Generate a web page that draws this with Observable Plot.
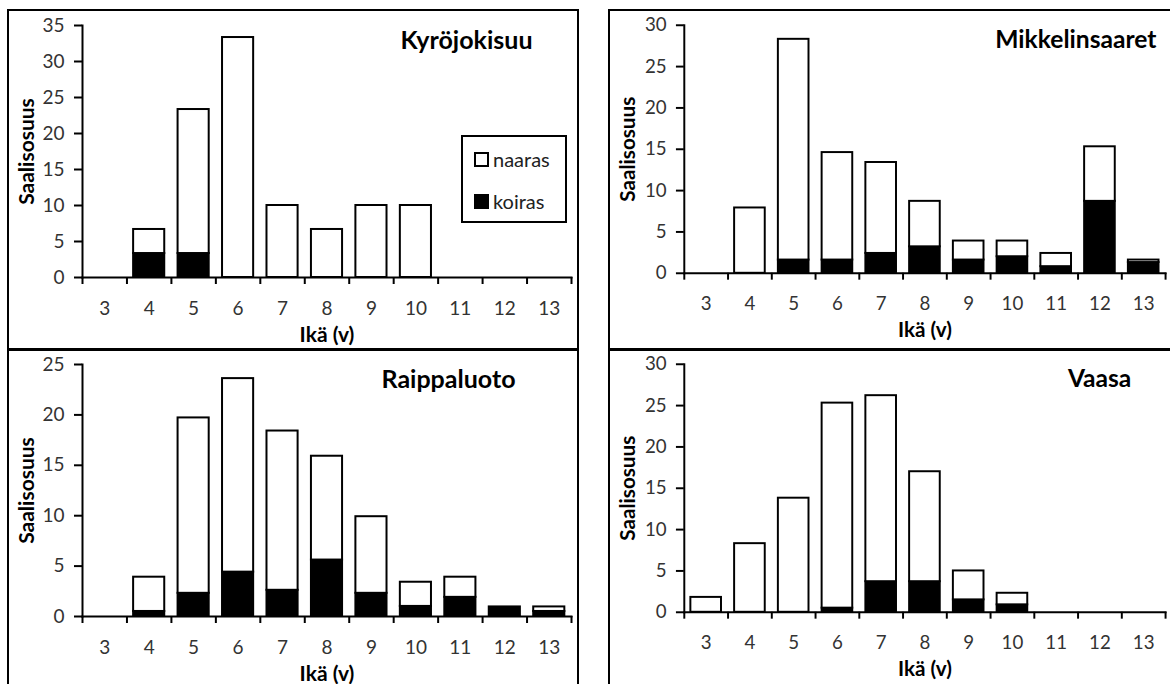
<!DOCTYPE html>
<html><head><meta charset="utf-8">
<script src="https://cdn.jsdelivr.net/npm/d3@7"></script>
<script src="https://cdn.jsdelivr.net/npm/@observablehq/plot@0.6"></script>
<style>
body{margin:0;background:#fff;font-family:Lato,sans-serif;}
#root{position:relative;width:1170px;height:684px;overflow:hidden;background:#fff;}
.frame{position:absolute;border:2px solid #000;box-sizing:border-box;}
.panel{position:absolute;}
.legend{position:absolute;border:2px solid #000;background:#fff;box-sizing:border-box;font-family:Lato,sans-serif;font-size:20px;color:#222;}
.legend .item{position:absolute;left:11px;display:flex;align-items:center;height:22px;}
.legend .sw{width:11px;height:11px;border:2px solid #000;margin-right:4px;}
</style></head><body><div id="root"></div>
<script>
// ---- data ----
const ages = [3, 4, 5, 6, 7, 8, 9, 10, 11, 12, 13];
const sexes = ["koiras", "naaras"];           // stacking order (bottom first)
const legendOrder = ["naaras", "koiras"];
const xTitle = "Ikä (v)";
const yTitle = "Saalisosuus";

const kyroTitle = "Kyröjokisuu";
const kyroKoiras = [0, 3.33, 3.33, 0, 0, 0, 0, 0, 0, 0, 0];
const kyroNaaras = [0, 3.34, 20.0, 33.33, 10.0, 6.67, 10.0, 10.0, 0, 0, 0];

const mikkTitle = "Mikkelinsaaret";
const mikkKoiras = [0, 0, 1.6, 1.6, 2.4, 3.2, 1.6, 2.0, 0.8, 8.7, 1.3];
const mikkNaaras = [0, 7.9, 26.7, 13.0, 11.0, 5.5, 2.3, 1.9, 1.6, 6.6, 0.3];

const raipTitle = "Raippaluoto";
const raipKoiras = [0, 0.5, 2.3, 4.4, 2.6, 5.6, 2.3, 1.0, 1.9, 0.95, 0.5];
const raipNaaras = [0, 3.4, 17.4, 19.2, 15.8, 10.3, 7.6, 2.4, 2.0, 0, 0.45];

const vaasTitle = "Vaasa";
const vaasKoiras = [0, 0, 0, 0.5, 3.7, 3.7, 1.5, 0.9, 0, 0, 0];
const vaasNaaras = [1.8, 8.3, 13.8, 24.8, 22.5, 13.3, 3.5, 1.4, 0, 0, 0];

const yMaxes = [35, 30, 25, 30];

// ---- layout ----
const layout = [
  {left: 8,   top: 10,  ml: 74, title: {x: 458, anchor: "middle"}},
  {left: 609, top: 10,  ml: 76, title: {x: 392, anchor: "start"}},
  {left: 8,   top: 349, ml: 74, title: {x: 440, anchor: "middle"}},
  {left: 609, top: 349, ml: 76, title: {x: 498, anchor: "middle"}}
];
const series = [
  [kyroTitle, kyroKoiras, kyroNaaras],
  [mikkTitle, mikkKoiras, mikkNaaras],
  [raipTitle, raipKoiras, raipNaaras],
  [vaasTitle, vaasKoiras, vaasNaaras]
];

const root = document.getElementById("root");
const W = 570, H = 339, PW = 489;

series.forEach(([title, koiras, naaras], i) => {
  const L = layout[i];
  const yMax = yMaxes[i];
  const data = ages.flatMap((a, j) => [
    {age: a, sex: sexes[0], value: koiras[j]},
    {age: a, sex: sexes[1], value: naaras[j]}
  ]).filter(d => d.value > 0);
  const frame = document.createElement("div");
  frame.className = "frame";
  frame.style.left = (L.left - 1) + "px";
  frame.style.top = (L.top - 1) + "px";
  frame.style.width = (i % 2 === 0 ? 572 : 700) + "px";
  frame.style.height = (i < 2 ? 342 : 400) + "px";
  root.appendChild(frame);

  const boundaries = d3.range(ages[0] - 0.5, ages[ages.length - 1] + 1, 1);
  const chart = Plot.plot({
    width: W, height: H,
    marginLeft: L.ml, marginRight: W - L.ml - PW, marginTop: 15, marginBottom: 72,
    style: {fontFamily: "Lato, sans-serif", fontSize: "19px", background: "transparent", overflow: "visible"},
    x: {type: "linear", domain: [ages[0] - 0.5, ages[ages.length - 1] + 0.5], axis: null},
    y: {domain: [0, yMax], axis: null},
    color: {domain: sexes, range: ["#000000", "#ffffff"]},
    marks: [
      Plot.rect(data, Plot.stackY({
        x: "age", y: "value",
        x1: d => d.age - 0.35, x2: d => d.age + 0.35,
        fill: "sex", stroke: "#000", strokeWidth: 2
      })),
      Plot.frame({anchor: "left", stroke: "#000", strokeWidth: 2}),
      Plot.frame({anchor: "bottom", stroke: "#000", strokeWidth: 2}),
      Plot.axisY({ticks: d3.range(0, yMax + 1, 5), tickSize: 8, tickPadding: 10, tickFormat: "d", label: null,
        stroke: "#000", strokeWidth: 2, fill: "#333", fontSize: 19}),
      Plot.axisX({ticks: boundaries, tickSize: 7, tickFormat: () => "", label: null, stroke: "#000", strokeWidth: 2}),
      Plot.axisX({ticks: ages, tickSize: 0, tickPadding: 24, tickFormat: "d", label: null, fill: "#333", fontSize: 19}),
      Plot.text([yTitle], {frameAnchor: "left", text: d => d, rotate: -90, dx: 19 - L.ml,
        textAnchor: "middle", lineAnchor: "middle", fontWeight: "bold", fontSize: 21, fill: "#000"}),
      Plot.text([xTitle], {frameAnchor: "bottom", text: d => d, dy: 58,
        textAnchor: "middle", lineAnchor: "middle", fontWeight: "bold", fontSize: 21, fill: "#000"}),
      Plot.text([title], {frameAnchor: "top-left", text: d => d, dx: L.title.x - L.ml, dy: 30 - 15,
        textAnchor: L.title.anchor, lineAnchor: "middle", fontWeight: "bold", fontSize: 25, fill: "#000"})
    ]
  });
  const wrap = document.createElement("div");
  wrap.className = "panel";
  wrap.style.left = L.left + "px";
  wrap.style.top = L.top + "px";
  wrap.appendChild(chart);
  root.appendChild(wrap);
});

// legend (top-left panel)
const color = d3.scaleOrdinal(sexes, ["#000000", "#ffffff"]);
const lg = document.createElement("div");
lg.className = "legend";
lg.style.left = "461px"; lg.style.top = "135px";
lg.style.width = "106px"; lg.style.height = "88px";
legendOrder.forEach((s, k) => {
  const it = document.createElement("div");
  it.className = "item";
  it.style.top = (11 + k * 42) + "px";
  const sw = document.createElement("div");
  sw.className = "sw";
  sw.style.background = color(s);
  const tx = document.createElement("span");
  tx.textContent = s;
  it.appendChild(sw); it.appendChild(tx);
  lg.appendChild(it);
});
root.appendChild(lg);
</script>
</body></html>
